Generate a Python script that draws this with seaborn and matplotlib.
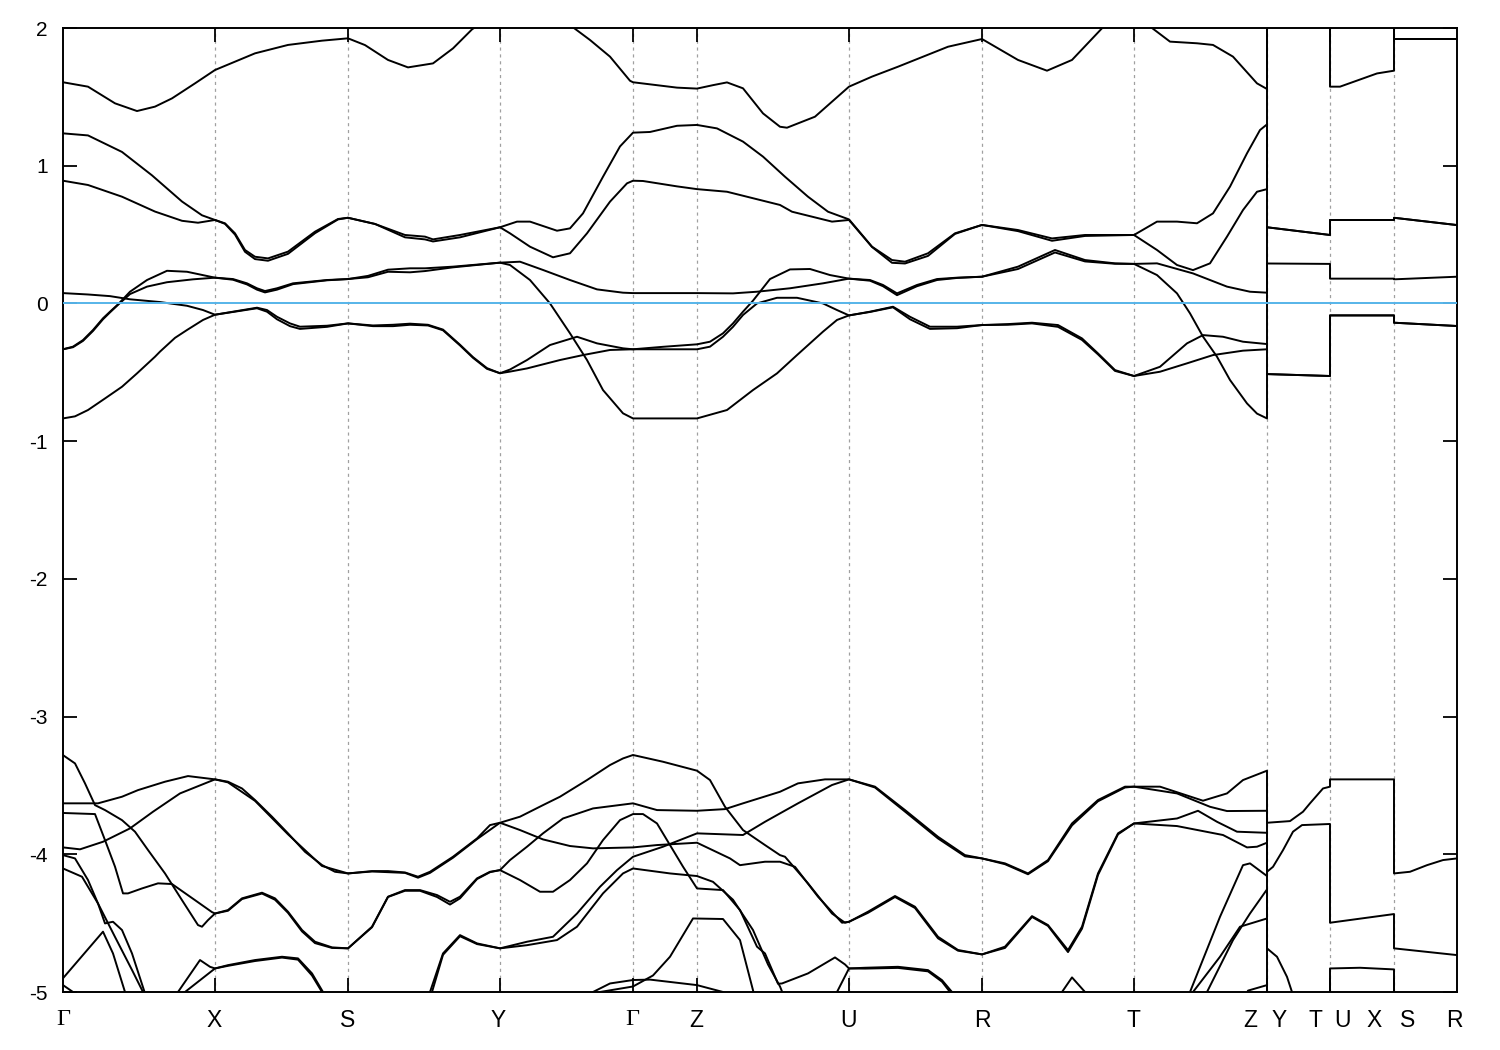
import matplotlib
matplotlib.use("Agg")
import matplotlib.pyplot as plt
import seaborn as sns
import pandas as pd

# k-path: high-symmetry positions (path length units) and axis labels
kpts = [152, 285, 437, 570, 634, 786, 919, 1071, 1204, 1267, 1331]
label_k = [0, 151, 285, 435, 569, 633, 785, 919, 1070, 1187, 1216, 1252, 1280, 1311, 1345, 1391]
labels = ["Γ", "X", "S", "Y", "Γ", "Z", "U", "R", "T", "Z", "Y", "T", "U", "X", "S", "R"]
yticks = [-5, -4, -3, -2, -1, 0, 1, 2]
e_fermi = 0.0

# bands around the Fermi level, (k, E) pairs
c1 = [(0, -0.835), (12, -0.82), (25, -0.774), (42, -0.69), (59, -0.605), (74, -0.508), (92, -0.387), (97, -0.35),
      (112, -0.25), (124, -0.193), (140, -0.12), (152, -0.082),
      (170, -0.06), (194, -0.031), (204, -0.048), (214, -0.097), (227, -0.145), (237, -0.169), (264, -0.162), (285, -0.145),
      (310, -0.16), (330, -0.155), (347, -0.147), (365, -0.155), (380, -0.19), (397, -0.30), (410, -0.39), (424, -0.47), (437, -0.507),
      (447, -0.495), (464, -0.472), (497, -0.411), (520, -0.375), (547, -0.338), (570, -0.333),
      (600, -0.333), (634, -0.333),
      (647, -0.314), (660, -0.242), (670, -0.17), (680, -0.084), (694, 0.0), (714, 0.041), (734, 0.041), (760, 0.0), (774, -0.048), (786, -0.087),
      (807, -0.06), (830, -0.024), (847, -0.097), (867, -0.169), (894, -0.169), (919, -0.157),
      (945, -0.15), (969, -0.14), (995, -0.157), (1019, -0.254), (1035, -0.363), (1052, -0.484), (1071, -0.527),
      (1097, -0.496), (1124, -0.435), (1150, -0.375), (1180, -0.343), (1204, -0.333),
      (1204, 0.29), (1267, 0.287), (1267, 0.18), (1331, 0.18), (1331, 0.175), (1394, 0.194)]
c2 = [(0, 0.075), (25, 0.065), (47, 0.053), (67, 0.03), (97, 0.01), (124, -0.017), (140, -0.048), (152, -0.082),
      (170, -0.062), (194, -0.035), (204, -0.06), (214, -0.115), (227, -0.165), (237, -0.185), (264, -0.17), (285, -0.145),
      (310, -0.165), (330, -0.165), (347, -0.155), (365, -0.16), (380, -0.195), (397, -0.305), (410, -0.395), (424, -0.475), (437, -0.507),
      (447, -0.48), (464, -0.411), (487, -0.302), (514, -0.242), (534, -0.29), (560, -0.326), (570, -0.333),
      (600, -0.315), (634, -0.297),
      (647, -0.278), (660, -0.217), (670, -0.145), (680, -0.06), (690, 0.02), (707, 0.177), (727, 0.247), (747, 0.25), (767, 0.206), (786, 0.18),
      (807, 0.17), (820, 0.134), (834, 0.073), (854, 0.134), (874, 0.177), (894, 0.187), (919, 0.194),
      (955, 0.267), (992, 0.388), (1022, 0.315), (1052, 0.291), (1071, 0.287),
      (1094, 0.206), (1114, 0.073), (1127, -0.072), (1140, -0.241), (1154, -0.387), (1167, -0.556), (1184, -0.726), (1194, -0.8), (1204, -0.835),
      (1204, -0.513), (1267, -0.527), (1267, -0.087), (1331, -0.087), (1331, -0.14), (1394, -0.164)]
c3 = [(0, -0.333), (10, -0.314), (20, -0.266), (30, -0.193), (40, -0.108), (47, -0.06), (55, -0.007), (67, 0.085), (84, 0.17),
      (104, 0.237), (124, 0.23), (152, 0.187),
      (170, 0.177), (184, 0.146), (194, 0.11), (202, 0.09), (214, 0.11), (230, 0.146), (264, 0.17), (285, 0.177),
      (305, 0.20), (325, 0.245), (347, 0.255), (362, 0.255), (390, 0.267), (437, 0.296),
      (447, 0.279), (467, 0.17), (487, 0.0), (507, -0.217), (524, -0.411), (540, -0.629), (560, -0.798), (570, -0.835),
      (600, -0.835), (634, -0.835),
      (664, -0.774), (690, -0.629), (714, -0.508), (734, -0.375), (760, -0.205), (774, -0.12), (786, -0.087),
      (807, -0.062), (830, -0.028), (847, -0.115), (867, -0.185), (894, -0.18), (919, -0.157),
      (945, -0.155), (969, -0.145), (995, -0.17), (1019, -0.265), (1035, -0.37), (1052, -0.49), (1071, -0.527),
      (1097, -0.46), (1124, -0.29), (1140, -0.23), (1160, -0.242), (1180, -0.278), (1204, -0.295),
      (1204, -0.513), (1267, -0.527), (1267, -0.087), (1331, -0.087), (1331, -0.14), (1394, -0.164)]
c4 = [(0, -0.333), (10, -0.318), (20, -0.272), (30, -0.2), (40, -0.115), (47, -0.065), (55, -0.01), (67, 0.068), (84, 0.122),
      (104, 0.154), (130, 0.175), (152, 0.187),
      (170, 0.172), (184, 0.138), (194, 0.10), (202, 0.08), (214, 0.10), (230, 0.14), (264, 0.168), (285, 0.177),
      (305, 0.19), (325, 0.23), (347, 0.226), (362, 0.235), (390, 0.262), (437, 0.296),
      (457, 0.303), (480, 0.243), (507, 0.17), (534, 0.102), (560, 0.078), (570, 0.075),
      (634, 0.075),
      (670, 0.073), (694, 0.085), (727, 0.11), (760, 0.146), (786, 0.18),
      (807, 0.165), (820, 0.125), (834, 0.06), (854, 0.125), (874, 0.17), (894, 0.185), (919, 0.194),
      (955, 0.25), (992, 0.37), (1022, 0.305), (1052, 0.288), (1071, 0.287),
      (1094, 0.291), (1130, 0.218), (1164, 0.122), (1187, 0.085), (1204, 0.078),
      (1204, 0.553), (1267, 0.497), (1267, 0.606), (1331, 0.606), (1331, 0.622), (1394, 0.569)]
c5 = [(0, 0.891), (25, 0.86), (59, 0.775), (92, 0.667), (119, 0.60), (135, 0.586), (152, 0.606),
      (162, 0.578), (172, 0.50), (182, 0.375), (192, 0.322), (205, 0.31), (225, 0.36), (252, 0.51), (275, 0.61), (285, 0.622),
      (312, 0.577), (342, 0.48), (362, 0.465), (370, 0.45), (397, 0.48), (437, 0.553),
      (447, 0.509), (467, 0.412), (490, 0.335), (507, 0.364), (524, 0.509), (547, 0.739), (564, 0.872), (570, 0.891),
      (580, 0.889), (614, 0.85), (634, 0.83),
      (664, 0.811), (717, 0.715), (729, 0.666), (769, 0.594), (786, 0.606),
      (809, 0.41), (829, 0.295), (842, 0.29), (865, 0.345), (892, 0.505), (919, 0.57),
      (955, 0.525), (989, 0.455), (1022, 0.49), (1071, 0.497),
      (1094, 0.388), (1114, 0.279), (1130, 0.242), (1147, 0.291), (1164, 0.485), (1180, 0.678), (1194, 0.811), (1204, 0.83),
      (1204, 2.15), (1267, 2.15), (1267, 1.574), (1277, 1.574), (1314, 1.67), (1331, 1.69), (1331, 1.92), (1394, 1.92)]
c6 = [(0, 1.235), (25, 1.22), (59, 1.10), (89, 0.93), (119, 0.74), (139, 0.64), (152, 0.606),
      (162, 0.5815), (172, 0.509), (182, 0.388), (192, 0.339), (205, 0.327), (225, 0.376), (252, 0.521), (275, 0.613), (285, 0.622),
      (312, 0.577), (342, 0.497), (362, 0.485), (370, 0.465), (397, 0.497), (437, 0.553),
      (454, 0.594), (467, 0.594), (494, 0.528), (507, 0.545), (520, 0.654), (540, 0.92), (557, 1.14), (570, 1.24),
      (587, 1.245), (614, 1.29), (634, 1.296),
      (654, 1.271), (680, 1.175), (700, 1.066), (722, 0.92), (745, 0.775), (765, 0.666), (786, 0.61),
      (809, 0.412), (829, 0.315), (842, 0.303), (865, 0.364), (892, 0.509), (919, 0.57),
      (955, 0.533), (989, 0.472), (1022, 0.497), (1071, 0.497),
      (1094, 0.594), (1114, 0.594), (1134, 0.582), (1150, 0.654), (1167, 0.848), (1184, 1.09), (1197, 1.259), (1204, 1.30),
      (1204, 0.553), (1267, 0.497), (1267, 0.606), (1331, 0.606), (1331, 0.622), (1394, 0.569)]
c7 = [(0, 1.606), (25, 1.574), (52, 1.453), (74, 1.397), (92, 1.429), (109, 1.489), (132, 1.598), (152, 1.695),
      (192, 1.816), (225, 1.877), (259, 1.908), (285, 1.925),
      (302, 1.876), (325, 1.768), (345, 1.714), (370, 1.743), (390, 1.852), (409, 1.99), (437, 2.13),
      (470, 2.14), (490, 2.1), (510, 2.005), (527, 1.913), (547, 1.792), (567, 1.617), (570, 1.606),
      (614, 1.567), (634, 1.56),
      (650, 1.585), (664, 1.605), (680, 1.562), (700, 1.38), (717, 1.283), (724, 1.276), (752, 1.356), (786, 1.574),
      (809, 1.647), (835, 1.719), (885, 1.864), (919, 1.92),
      (955, 1.768), (984, 1.69), (1009, 1.768), (1039, 1.998), (1071, 2.12),
      (1089, 2.0), (1107, 1.901), (1134, 1.889), (1150, 1.877), (1170, 1.792), (1194, 1.598), (1204, 1.557),
      (1204, 2.15), (1267, 2.15), (1331, 2.15), (1331, 1.92), (1394, 1.92)]

# deeper bands (-3.3 .. -5 eV and below)
d1 = [(0, -3.63), (22, -3.63), (35, -3.63), (59, -3.582), (75, -3.534), (102, -3.473), (125, -3.432), (152, -3.456),
      (165, -3.473), (179, -3.522), (192, -3.606), (209, -3.727), (225, -3.848), (242, -3.982), (259, -4.078), (272, -4.127), (285, -4.139),
      (309, -4.122), (325, -4.122), (342, -4.132), (355, -4.163), (367, -4.127), (390, -4.018), (414, -3.885), (427, -3.788), (437, -3.771),
      (457, -3.727), (480, -3.643), (497, -3.582), (524, -3.461), (547, -3.352), (560, -3.304), (570, -3.279),
      (600, -3.328), (634, -3.393),
      (647, -3.461), (662, -3.655), (680, -3.824), (702, -3.933), (717, -4.006), (722, -4.018), (745, -4.211), (769, -4.43), (782, -4.497), (786, -4.49),
      (805, -4.417), (832, -4.303), (852, -4.381), (875, -4.599), (895, -4.695), (919, -4.727),
      (942, -4.671), (969, -4.449), (985, -4.514), (1005, -4.696), (1019, -4.526), (1035, -4.139), (1055, -3.848), (1071, -3.776),
      (1114, -3.74), (1135, -3.684), (1154, -3.764), (1174, -3.836), (1204, -3.844),
      (1204, -4.683), (1214, -4.744), (1224, -4.89), (1229, -5.0), (1240, -5.3), (1267, -5.3), (1267, -4.829), (1297, -4.824),
      (1331, -4.836), (1331, -5.3), (1394, -5.3)]
d2 = [(0, -3.95), (17, -3.964), (40, -3.909), (67, -3.812), (90, -3.691), (117, -3.558), (152, -3.456),
      (165, -3.478), (192, -3.612), (225, -3.855), (259, -4.085), (285, -4.139),
      (309, -4.125), (342, -4.135), (355, -4.17), (367, -4.135), (390, -4.025), (414, -3.89), (437, -3.771),
      (457, -3.824), (480, -3.892), (507, -3.94), (530, -3.957), (570, -3.95),
      (594, -3.933), (634, -3.916),
      (667, -4.03), (677, -4.079), (702, -4.054), (717, -4.054), (732, -4.091), (755, -4.308), (779, -4.497), (786, -4.49),
      (805, -4.425), (832, -4.31), (852, -4.39), (875, -4.61), (895, -4.70), (919, -4.727),
      (942, -4.68), (969, -4.455), (985, -4.52), (1005, -4.71), (1019, -4.54), (1035, -4.15), (1055, -3.855), (1071, -3.776),
      (1114, -3.795), (1160, -3.86), (1184, -3.95), (1194, -3.945), (1204, -3.916)]
d3 = [(0, -3.28), (12, -3.34), (22, -3.485), (32, -3.643), (42, -3.679), (59, -3.752), (72, -3.836), (85, -3.969), (102, -4.139),
      (119, -4.333), (135, -4.514), (139, -4.526), (145, -4.478), (152, -4.43),
      (165, -4.405), (179, -4.32), (199, -4.279), (212, -4.32), (225, -4.417), (239, -4.55), (252, -4.635), (269, -4.676), (285, -4.683),
      (309, -4.526), (325, -4.308), (342, -4.26), (357, -4.26), (374, -4.296), (387, -4.345), (397, -4.308), (414, -4.175), (427, -4.127), (437, -4.115),
      (447, -4.042), (464, -3.945), (480, -3.848), (500, -3.74), (530, -3.667), (570, -3.63),
      (594, -3.679), (634, -3.684),
      (662, -3.672), (680, -3.63), (717, -3.546), (735, -3.485), (762, -3.456), (786, -3.456),
      (812, -3.509), (842, -3.679), (875, -3.873), (902, -4.006), (919, -4.03),
      (942, -4.066), (965, -4.139), (985, -4.042), (1009, -3.776), (1035, -3.606), (1062, -3.509), (1071, -3.509),
      (1097, -3.509), (1140, -3.611), (1164, -3.558), (1180, -3.461), (1204, -3.393),
      (1204, -3.771), (1227, -3.759), (1240, -3.691), (1247, -3.63), (1260, -3.522), (1267, -3.509), (1267, -3.456), (1331, -3.456),
      (1331, -4.139), (1347, -4.127), (1364, -4.079), (1380, -4.042), (1394, -4.03)]
d4 = [(0, -3.70), (32, -3.708), (42, -3.897), (52, -4.09), (60, -4.284), (65, -4.284), (79, -4.248), (95, -4.211), (109, -4.216),
      (132, -4.333), (149, -4.42), (152, -4.43),
      (165, -4.41), (179, -4.325), (199, -4.285), (212, -4.33), (225, -4.425), (239, -4.56), (252, -4.645), (269, -4.68), (285, -4.683),
      (309, -4.53), (325, -4.31), (342, -4.265), (357, -4.265), (374, -4.31), (387, -4.365), (397, -4.32), (414, -4.18), (427, -4.13), (437, -4.115),
      (457, -4.187), (477, -4.272), (490, -4.272), (507, -4.187), (524, -4.066), (540, -3.897), (557, -3.752), (570, -3.708),
      (580, -3.708), (594, -3.776), (604, -3.897), (620, -4.09), (634, -4.248),
      (660, -4.26), (677, -4.405), (694, -4.671), (702, -4.72), (715, -4.94), (719, -4.938), (745, -4.865), (772, -4.749), (782, -4.80), (786, -4.829),
      (802, -4.824), (835, -4.817), (865, -4.841), (879, -4.914), (889, -5.0), (900, -5.3),
      (990, -5.3), (999, -5.0), (1009, -4.894), (1022, -5.0), (1035, -5.3),
      (1125, -5.3), (1144, -5.0), (1170, -4.623), (1187, -4.43), (1204, -4.255),
      (1204, -5.3), (1394, -5.3)]
d5 = [(0, -4.006), (12, -4.03), (25, -4.187), (35, -4.357), (42, -4.502), (50, -4.49), (59, -4.55), (69, -4.72), (82, -5.01), (100, -5.3),
      (115, -5.0), (137, -4.768), (147, -4.817), (152, -4.829),
      (165, -4.805), (192, -4.768), (219, -4.744), (235, -4.756), (249, -4.865), (260, -5.0), (275, -5.3),
      (350, -5.3), (367, -5.0), (380, -4.72), (397, -4.587), (414, -4.647), (437, -4.683),
      (464, -4.635), (490, -4.599), (514, -4.43), (537, -4.236), (554, -4.115), (570, -4.018),
      (600, -3.945), (634, -3.848),
      (680, -3.86), (702, -3.764), (717, -3.703), (735, -3.63), (769, -3.497), (786, -3.456),
      (812, -3.515), (842, -3.69), (875, -3.885), (902, -4.015), (919, -4.03),
      (942, -4.072), (965, -4.145), (985, -4.05), (1009, -3.79), (1035, -3.615), (1062, -3.515), (1071, -3.509),
      (1114, -3.558), (1147, -3.655), (1164, -3.686), (1204, -3.684),
      (1204, -4.127), (1210, -4.091), (1220, -3.97), (1230, -3.836), (1239, -3.788), (1267, -3.78),
      (1267, -4.497), (1331, -4.434), (1331, -4.683), (1394, -4.732)]
d6 = [(0, -4.103), (19, -4.163), (35, -4.357), (52, -4.6), (69, -4.84), (80, -5.0), (95, -5.3),
      (110, -5.3), (122, -5.0), (152, -4.829),
      (165, -4.81), (192, -4.775), (219, -4.75), (235, -4.765), (249, -4.88), (259, -5.0), (272, -5.3),
      (355, -5.3), (369, -5.0), (380, -4.73), (397, -4.595), (414, -4.652), (437, -4.683),
      (464, -4.66), (494, -4.623), (514, -4.526), (540, -4.284), (560, -4.139), (570, -4.103),
      (607, -4.139), (634, -4.158),
      (650, -4.2), (670, -4.33), (690, -4.55), (705, -4.80), (717, -4.96), (722, -5.05), (735, -5.3),
      (755, -5.3), (774, -5.0), (786, -4.829),
      (802, -4.83), (835, -4.825), (865, -4.85), (879, -4.925), (887, -5.0), (898, -5.3),
      (1110, -5.3), (1127, -5.0), (1157, -4.454), (1180, -4.079), (1187, -4.066), (1204, -4.158)]
d7 = [(0, -4.9), (40, -4.562), (50, -4.72), (62, -5.0), (70, -5.3),
      (515, -5.3), (530, -5.0), (547, -4.938), (570, -4.913),
      (587, -4.91), (634, -4.95), (660, -5.0), (680, -5.3),
      (1165, -5.3), (1185, -4.99), (1204, -4.95)]
d8 = [(0, -4.95), (12, -5.01), (20, -5.3),
      (520, -5.3), (537, -5.0), (570, -4.96), (590, -4.88), (607, -4.744), (630, -4.466), (660, -4.47), (677, -4.623),
      (690, -4.987), (700, -5.3),
      (1115, -5.3), (1130, -5.0), (1157, -4.744), (1177, -4.526), (1204, -4.466)]

bands = {"c1": c1, "c2": c2, "c3": c3, "c4": c4, "c5": c5, "c6": c6, "c7": c7,
         "d1": d1, "d2": d2, "d3": d3, "d4": d4, "d5": d5, "d6": d6, "d7": d7, "d8": d8}

rows = []
for name, pts in bands.items():
    for k, e in pts:
        rows.append({"band": name, "k": k, "E": e})
df = pd.DataFrame(rows)

sns.set_theme(style="ticks")
plt.rcParams["font.family"] = ["Liberation Sans", "DejaVu Sans"]

fig = plt.figure(figsize=(15, 10.5), dpi=100)
ax = fig.add_axes([63 / 1500, 1 - 992 / 1050, 1394 / 1500, 964 / 1050])

sns.lineplot(data=df, x="k", y="E", units="band", estimator=None, sort=False,
             color="black", linewidth=1.4, legend=False, ax=ax)
for ln in ax.get_lines():
    ln.set_solid_joinstyle("round")
ax.axhline(e_fermi, color="#56B4E9", linewidth=1.4, zorder=5)

ax.set_xlim(0, 1394)
ax.set_ylim(-5, 2)
ax.set_xlabel("")
ax.set_ylabel("")

ax.set_yticks(yticks)
ax.set_yticklabels([str(v) for v in yticks])

ax.xaxis.remove_overlapping_locs = False
ax.set_xticks(kpts)
ax.set_xticklabels([])
ax.set_xticks(label_k, minor=True)
ax.set_xticklabels(labels, minor=True)
ax.xaxis.grid(True, which="major", color="#a0a0a0", linestyle=(0, (2.5, 3)), linewidth=0.9)
ax.yaxis.grid(False)

ax.tick_params(axis="both", which="major", direction="in", length=10, width=1.3,
               top=True, right=True, color="black")
ax.tick_params(axis="y", labelsize=15, pad=11, labelcolor="black")
ax.tick_params(axis="x", which="minor", length=0, pad=12, labelsize=16.5, labelcolor="black")
for lab in ax.get_xticklabels(minor=True):
    if lab.get_text() == "Γ":
        lab.set_fontfamily(["Liberation Serif", "DejaVu Serif"])
        lab.set_fontsize(17.5)

for sp in ax.spines.values():
    sp.set_color("black")
    sp.set_linewidth(1.4)

fig.savefig("out.png", dpi=100, facecolor="white")
